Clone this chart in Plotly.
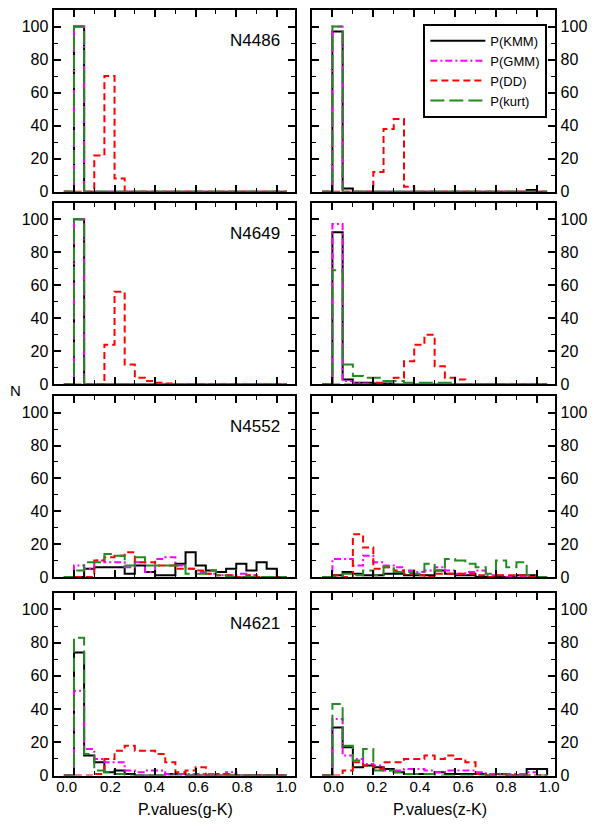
import plotly.graph_objects as go

# ---------------- data ----------------
bin_left = [round(0.05 * k, 2) for k in range(21)]   # histogram bin left edges (bin width 0.05)
galaxies = ["N4486", "N4649", "N4552", "N4621"]
methods = ["P(KMM)", "P(GMM)", "P(DD)", "P(kurt)"]
colors = ["#000000", "#ff00ff", "#ff0000", "#228b22"]
dashes = ["solid", "7px,3px,2px,3px", "7px,4px", "14px,5px"]
xlabels = ["P.values(g-K)", "P.values(z-K)"]
xtick_vals = [0, 0.2, 0.4, 0.6, 0.8, 1.0]
xtick_text = ["0.0", "0.2", "0.4", "0.6", "0.8", "1.0"]
ytick_vals = [0, 20, 40, 60, 80, 100]

# N4486
n4486_gK_kmm = [100, 0, 0, 0, 0, 0, 0, 0, 0, 0, 0, 0, 0, 0, 0, 0, 0, 0, 0, 0, 0]
n4486_gK_gmm = [100, 0, 0, 0, 0, 0, 0, 0, 0, 0, 0, 0, 0, 0, 0, 0, 0, 0, 0, 0, 0]
n4486_gK_dd = [0, 0, 22, 70, 8, 0, 0, 0, 0, 0, 0, 0, 0, 0, 0, 0, 0, 0, 0, 0, 0]
n4486_gK_kurt = [100, 0, 0, 0, 0, 0, 0, 0, 0, 0, 0, 0, 0, 0, 0, 0, 0, 0, 0, 0, 0]
n4486_zK_kmm = [97, 2, 0, 0, 0, 0, 0, 0, 0, 0, 0, 0, 0, 0, 0, 0, 0, 0, 0, 1, 0]
n4486_zK_gmm = [100, 0, 0, 0, 0, 0, 0, 0, 0, 0, 0, 0, 0, 0, 0, 0, 0, 0, 0, 0, 0]
n4486_zK_dd = [0, 0, 0, 0, 12, 38, 44, 3, 0, 0, 0, 0, 0, 0, 0, 0, 0, 0, 0, 0, 0]
n4486_zK_kurt = [100, 0, 0, 0, 0, 0, 0, 0, 0, 0, 0, 0, 0, 0, 0, 0, 0, 0, 0, 0, 0]
# N4649
n4649_gK_kmm = [100, 0, 0, 0, 0, 0, 0, 0, 0, 0, 0, 0, 0, 0, 0, 0, 0, 0, 0, 0, 0]
n4649_gK_gmm = [100, 0, 0, 0, 0, 0, 0, 0, 0, 0, 0, 0, 0, 0, 0, 0, 0, 0, 0, 0, 0]
n4649_gK_dd = [0, 0, 0, 24, 56, 12, 4, 2, 1, 0.5, 0, 0, 0, 0, 0, 0, 0, 0, 0, 0, 0]
n4649_gK_kurt = [100, 0, 0, 0, 0, 0, 0, 0, 0, 0, 0, 0, 0, 0, 0, 0, 0, 0, 0, 0, 0]
n4649_zK_kmm = [92, 3, 1, 1, 0.5, 0.5, 0, 0, 0, 0, 0, 0, 0, 0, 0, 0, 0, 0, 0, 0, 0]
n4649_zK_gmm = [97, 2, 1, 0.5, 0, 0, 0, 0, 0, 0, 0, 0, 0, 0, 0, 0, 0, 0, 0, 0, 0]
n4649_zK_dd = [0, 0, 0, 0, 1, 2, 4, 14, 24, 30, 11, 4, 3, 0, 0, 0, 0, 0, 0, 0, 0]
n4649_zK_kurt = [69, 12, 5, 4, 4, 2, 2, 1, 1, 1, 1, 1, 0, 0, 0, 0, 0, 0, 0, 0, 0]
# N4552
n4552_gK_kmm = [0, 5, 6, 6, 6, 2, 7, 3, 1, 1, 8, 15, 7, 4, 3, 5, 8, 4, 9, 5, 0]
n4552_gK_gmm = [7, 5, 10, 9, 9, 6, 9, 3, 11, 12, 7, 5, 3, 2, 1, 1, 2, 1, 0, 0, 0]
n4552_gK_dd = [0, 0, 10, 12, 13, 15, 9, 9, 7, 7, 5, 5, 4, 2, 1, 1, 0, 1, 0, 0, 0]
n4552_gK_kurt = [4, 9, 9, 14, 13, 7, 12, 7, 7, 7, 7, 2, 2, 4, 1, 0, 0, 0, 0, 0, 0]
n4552_zK_kmm = [1, 3, 2, 1, 1, 2, 2, 1, 1, 1, 4, 2, 1, 1, 0, 0, 0, 0, 1, 1, 0]
n4552_zK_gmm = [11, 11, 7, 13, 9, 7, 6, 4, 3, 4, 6, 4, 2, 3, 4, 1, 1, 0, 0, 0, 0]
n4552_zK_dd = [1, 0, 26, 18, 5, 6, 4, 2, 1, 0, 2, 2, 2, 2, 1, 0, 1, 1, 1, 0, 0]
n4552_zK_kurt = [0, 2, 1, 4, 1, 6, 3, 3, 2, 8, 4, 11, 10, 8, 6, 2, 10, 6, 9, 1, 0]
# N4621
n4621_gK_kmm = [74, 12, 8, 2, 3, 1, 0, 0, 0, 1, 1, 0, 0, 0, 0, 0, 0, 0, 0, 0, 0]
n4621_gK_gmm = [51, 16, 10, 8, 8, 3, 2, 3, 3, 1, 1, 1, 1, 1, 1, 2, 0, 0, 0, 0, 0]
n4621_gK_dd = [0, 0, 1, 10, 15, 18, 15, 15, 13, 8, 2, 3, 5, 0, 1, 1, 0, 0, 0, 0, 0]
n4621_gK_kurt = [83, 13, 3, 2, 1, 0, 0, 0, 0, 0, 0, 0, 0, 0, 0, 0, 0, 0, 0, 0, 0]
n4621_zK_kmm = [29, 17, 5, 6, 5, 4, 2, 1, 1, 1, 2, 1, 1, 1, 1, 0, 1, 0, 0, 4, 4]
n4621_zK_gmm = [34, 12, 10, 7, 6, 3, 3, 4, 4, 3, 2, 3, 3, 3, 2, 1, 1, 1, 1, 2, 0]
n4621_zK_dd = [0, 3, 8, 6, 4, 8, 8, 10, 10, 12, 10, 12, 10, 8, 1, 0, 1, 0, 0, 0, 0]
n4621_zK_kurt = [43, 18, 9, 16, 3, 3, 2, 1, 1, 1, 0, 0, 0, 0, 0, 0, 0, 0, 0, 0, 0]

panels = [
    [[n4486_gK_kmm, n4486_gK_gmm, n4486_gK_dd, n4486_gK_kurt],
     [n4486_zK_kmm, n4486_zK_gmm, n4486_zK_dd, n4486_zK_kurt]],
    [[n4649_gK_kmm, n4649_gK_gmm, n4649_gK_dd, n4649_gK_kurt],
     [n4649_zK_kmm, n4649_zK_gmm, n4649_zK_dd, n4649_zK_kurt]],
    [[n4552_gK_kmm, n4552_gK_gmm, n4552_gK_dd, n4552_gK_kurt],
     [n4552_zK_kmm, n4552_zK_gmm, n4552_zK_dd, n4552_zK_kurt]],
    [[n4621_gK_kmm, n4621_gK_gmm, n4621_gK_dd, n4621_gK_kurt],
     [n4621_zK_kmm, n4621_zK_gmm, n4621_zK_dd, n4621_zK_kurt]],
]

# ---------------- layout geometry (page has an 8px body margin) ----------------
OFF = 8
W, H = 607 - OFF, 830 - OFF
def px_x(p):
    return (p - OFF) / W
def px_y(p):
    return 1 - (p - OFF) / H

col_px = [(54, 297), (314, 559)]
row_px = [(9, 193), (204, 388), (400, 583), (599, 784)]
label_range = [[-0.059, 1.041], [-0.101, 1.028]]   # where the printed tick labels sit
FONT = "Liberation Sans, Arial, sans-serif"

fig = go.Figure()
layout = dict(
    width=W, height=H, margin=dict(l=0, r=0, t=0, b=0),
    paper_bgcolor="white", plot_bgcolor="white",
    font=dict(family=FONT, size=15, color="black"),
    showlegend=True,
    legend=dict(x=px_x(551), y=px_y(23), xanchor="right", yanchor="top",
                bgcolor="white", bordercolor="black", borderwidth=2,
                font=dict(size=13), tracegroupgap=0, itemwidth=55),
)
annotations = []

step_x = [-0.05] + bin_left + [1.05]
for r in range(4):
    for c in range(2):
        n = 2 * r + c + 1
        xa = "x" if n == 1 else f"x{n}"
        ya = "y" if n == 1 else f"y{n}"
        for m in range(4):
            vals = panels[r][c][m]
            fig.add_trace(go.Scatter(
                x=step_x, y=[0] + vals + [0], xaxis=xa, yaxis=ya,
                mode="lines", line=dict(shape="hv", color=colors[m], width=2, dash=dashes[m]),
                name=methods[m], showlegend=(r == 0 and c == 1), hoverinfo="skip"))
        x0, x1 = col_px[c]
        y0, y1 = row_px[r]
        common = dict(showline=True, linecolor="black", linewidth=2.2, mirror="ticks",
                      ticks="inside", ticklen=7, tickwidth=1.5, tickcolor="black",
                      showgrid=False, zeroline=False, fixedrange=True)
        layout["xaxis" if n == 1 else f"xaxis{n}"] = dict(
            domain=[px_x(x0), px_x(x1)], anchor=ya, range=[-0.1, 1.09],
            tickvals=xtick_vals, showticklabels=False,
            minor=dict(ticks="inside", ticklen=4, tickwidth=1.2, tickcolor="black", dtick=0.1, tick0=0),
            **common)
        layout["yaxis" if n == 1 else f"yaxis{n}"] = dict(
            domain=[px_y(y1), px_y(y0)], anchor=xa, range=[0, 110],
            tickvals=ytick_vals,
            side="left" if c == 0 else "right",
            minor=dict(ticks="inside", ticklen=4, tickwidth=1.2, tickcolor="black", dtick=10, tick0=0),
            tickfont=dict(size=16), **common)
        if c == 0:
            annotations.append(dict(
                text=galaxies[r], xref=f"{xa} domain", yref=f"{ya} domain",
                x=0.945, y=0.83, xanchor="right", yanchor="middle", showarrow=False,
                font=dict(size=17)))

# label-only x axes under the bottom row
for c in range(2):
    base = 7 + c
    lab = 9 + c
    fig.add_trace(go.Scatter(x=[], y=[], xaxis=f"x{lab}", yaxis=f"y{base}",
                             showlegend=False, hoverinfo="skip"))
    layout[f"xaxis{lab}"] = dict(
        overlaying=f"x{base}", anchor=f"y{base}", side="bottom", range=label_range[c],
        tickvals=xtick_vals, ticktext=xtick_text, showticklabels=True,
        ticks="", showline=False, showgrid=False, zeroline=False, fixedrange=True,
        tickfont=dict(size=15))

annotations.append(dict(text=xlabels[0], xref="paper", yref="paper", x=px_x(187), y=px_y(818),
                        xanchor="center", yanchor="middle", showarrow=False, font=dict(size=16)))
annotations.append(dict(text=xlabels[1], xref="paper", yref="paper", x=px_x(443), y=px_y(818),
                        xanchor="center", yanchor="middle", showarrow=False, font=dict(size=16)))
annotations.append(dict(text="N", xref="paper", yref="paper", x=px_x(16), y=px_y(394),
                        xanchor="center", yanchor="middle", showarrow=False, font=dict(size=15)))
layout["annotations"] = annotations
fig.update_layout(**layout)
fig.write_html("out.html")
